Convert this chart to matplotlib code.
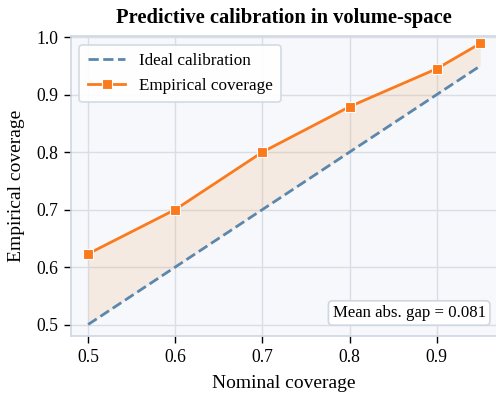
import matplotlib.pyplot as plt
import numpy as np

plt.rcParams['font.family'] = ['Liberation Serif', 'DejaVu Serif']

nominal = [0.5, 0.6, 0.7, 0.8, 0.9, 0.95]
empirical = [0.623, 0.700, 0.800, 0.879, 0.945, 0.989]
ideal = nominal

gap = np.mean(np.abs(np.array(empirical) - np.array(ideal)))

fig = plt.figure(figsize=(4.96, 3.98), dpi=100)
ax = fig.add_axes([70.7 / 496, 62 / 398, 427 / 496, 300 / 398])
ax.set_facecolor('#f6f8fb')

ax.fill_between(nominal, ideal, empirical, color='#f4a460', alpha=0.16, lw=0)
ax.plot(nominal, ideal, ls='--', color='#5b87ad', lw=2, label='Ideal calibration')
ax.plot(nominal, empirical, color='#fb7a1c', lw=2, marker='s', ms=7.5,
        mec='white', mew=0.8, label='Empirical coverage')

ax.set_xlim(0.48, 0.97)
ax.set_ylim(0.48, 1.002)
ax.set_xticks([0.5, 0.6, 0.7, 0.8, 0.9])
ax.set_yticks([0.5, 0.6, 0.7, 0.8, 0.9, 1.0])
ax.grid(True, color='#d9dee6', lw=1)
ax.set_axisbelow(True)
for s in ax.spines.values():
    s.set_color('#cfd7e1')
    s.set_linewidth(1.2)
ax.tick_params(labelsize=12.7, length=5, width=1, color='black', pad=4)

ax.set_xlabel('Nominal coverage', fontsize=14, labelpad=7)
ax.set_ylabel('Empirical coverage', fontsize=14, labelpad=8)
ax.set_title('Predictive calibration in volume-space', fontsize=14.8,
             fontweight='bold', pad=9)

leg = ax.legend(loc='upper left', fontsize=12.3, frameon=True, fancybox=True,
                framealpha=0.9, edgecolor='#cfd7e1', borderpad=0.5,
                handlelength=2.2)
leg.get_frame().set_linewidth(1.2)

ax.text(0.972, 0.05, f'Mean abs. gap = {gap:.3f}', transform=ax.transAxes,
        ha='right', va='bottom', fontsize=12.1,
        bbox=dict(boxstyle='round,pad=0.25', fc='white', ec='#cfd7e1', lw=1.2))

fig.savefig('out.png', dpi=100)
